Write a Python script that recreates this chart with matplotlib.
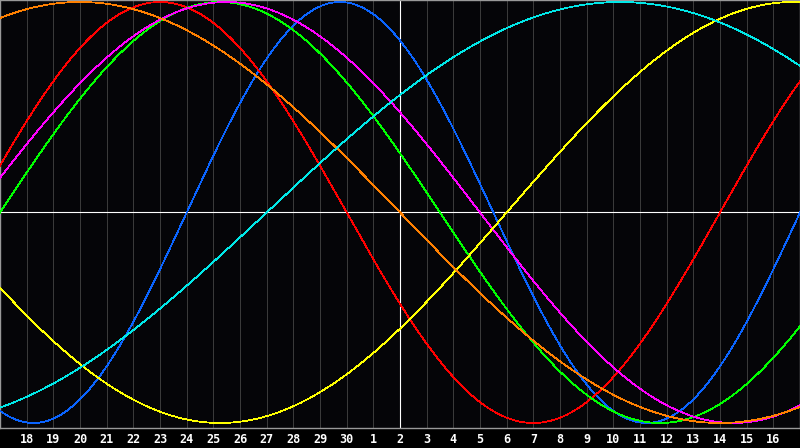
import numpy as np
import matplotlib
matplotlib.use('Agg')
import matplotlib.pyplot as plt

# Day labels under the chart (centre day is "2")
day_labels = ['18', '19', '20', '21', '22', '23', '24', '25', '26', '27', '28', '29',
              '30', '1', '2', '3', '4', '5', '6', '7', '8', '9', '10', '11', '12',
              '13', '14', '15', '16']
day_offsets = list(range(-14, 15))

# Cycles: name, period (days), day offset of the upward zero crossing, colour
cycle_names = ['physical', 'emotional', 'intellectual', 'intuitive',
               'aesthetic', 'awareness', 'spiritual']
cycle_periods = [23, 28, 33, 38, 43, 48, 53]
cycle_zero_up = [-8.0, 12.0, -15.0, -16.0, 4.0, 24.0, -5.0]
cycle_colors = ['#0a64ff', '#ff0000', '#00ff00', '#ff00ff',
                '#ffff00', '#ff8000', '#00e8e8']

fig = plt.figure(figsize=(8, 4.48), dpi=100)
fig.patch.set_facecolor('#000000')
ax = fig.add_axes([0, 20 / 448, 1, 428 / 448])
ax.set_facecolor('#050508')

ax.set_xlim(-15, 15)
ax.set_ylim(-1.0238, 1.0095)

# Day grid
for d in day_offsets:
    if d != 0:
        ax.axvline(d, color='#3a3a3a', lw=0.72, zorder=1)
ax.axvline(0, color='white', lw=0.8, zorder=2)
ax.axhline(0, color='white', lw=0.8, zorder=2)

t = np.linspace(-15, 15, 1600)
for name, p, z, c in zip(cycle_names, cycle_periods, cycle_zero_up, cycle_colors):
    ax.plot(t, np.sin(2 * np.pi * (t - z) / p), color=c, lw=0.55,
            antialiased=False, zorder=3, label=name)

ax.set_xticks([])
ax.set_yticks([])
for s in ax.spines.values():
    s.set_color('#999999')
    s.set_linewidth(1.0)

# Day labels in the black strip at the bottom
for d, lab in zip(day_offsets, day_labels):
    fig.text((d + 15) / 30, 9 / 448, lab, color='white', ha='center', va='center',
             fontsize=8.5, fontweight='bold', family='DejaVu Sans Mono')

fig.savefig('out.png', dpi=100, facecolor=fig.get_facecolor())
